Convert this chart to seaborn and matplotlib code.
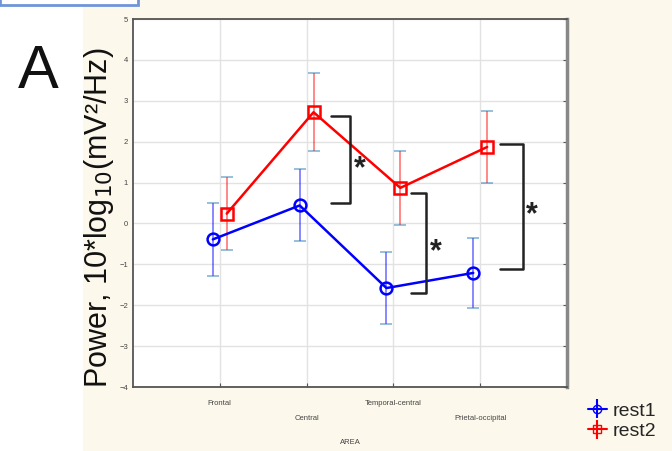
import matplotlib
matplotlib.use("Agg")

import pandas as pd
import matplotlib.pyplot as plt
import seaborn as sns
from matplotlib.patches import Rectangle

# ======================
# DATA
# ======================
areas = ["Frontal", "Central", "Temporal-central", "Prietal-occipital"]
rest1_mean = [-0.39, 0.44, -1.58, -1.21]
rest1_err = [0.89, 0.88, 0.89, 0.85]
rest2_mean = [0.24, 2.72, 0.87, 1.87]
rest2_err = [0.89, 0.96, 0.91, 0.87]

# significance brackets: (x of left end, x of vertical, y top, y bottom)
brackets = [
    (1.28, 1.50, 2.62, 0.49),
    (2.20, 2.38, 0.75, -1.70),
    (3.23, 3.49, 1.94, -1.12),
]

series = {
    "rest1": (rest1_mean, rest1_err, "#0000ff", "o", -0.08),
    "rest2": (rest2_mean, rest2_err, "#ff0000", "s", 0.08),
}

rows = []
for name, (vals, errs, col, mk, off) in series.items():
    for i, (v, e) in enumerate(zip(vals, errs)):
        rows.append({"pos": i + off, "value": v, "err": e, "group": name})
df = pd.DataFrame(rows)

# ======================
# PLOT
# ======================
sns.set_style("white")
plt.rcParams["font.family"] = ["Liberation Sans", "DejaVu Sans"]

fig = plt.figure(figsize=(6.72, 4.51), dpi=100)
fig.patch.set_facecolor("white")
fig.patches.append(Rectangle((83 / 672, 0), 1, 1, transform=fig.transFigure,
                             facecolor="#fdf8ec", edgecolor="none", zorder=-10))
fig.patches.append(Rectangle((0, 0.99), 138 / 672, 0.05, transform=fig.transFigure,
                             facecolor="white", edgecolor="#6f95d8", lw=2, zorder=-5))

ax = fig.add_axes([133 / 672, 64 / 451, 434 / 672, 368 / 451])
ax.set_zorder(2)
ax.set_facecolor("white")

for name, (vals, errs, col, mk, off) in series.items():
    sub = df[df["group"] == name]
    ax.errorbar(sub["pos"], sub["value"], yerr=sub["err"], fmt="none",
                ecolor=col, alpha=0.5, elinewidth=1.3, capsize=4, capthick=1.3, zorder=3)

sns.lineplot(data=df, x="pos", y="value", hue="group", style="group",
             palette={"rest1": "#0000ff", "rest2": "#ff0000"},
             markers={"rest1": "o", "rest2": "s"}, dashes=False,
             markersize=8.5, markerfacecolor="none", markeredgewidth=1.8,
             linewidth=1.8, sort=False, legend=False, ax=ax, zorder=4)
for line in ax.lines:
    line.set_markerfacecolor("none")
    line.set_markeredgecolor(line.get_color())

# brackets and stars
for xl, xv, yt, yb in brackets:
    ax.plot([xl, xv, xv, xl], [yt, yt, yb, yb], color="#222222", lw=1.8, zorder=5)
    ax.text(xv + 0.11, (yt + yb) / 2 - 0.22, "*", fontsize=22, fontweight="bold",
            ha="center", va="center", color="#222222", zorder=5)

ax.set_xlim(-1, 4)
ax.set_ylim(-4, 5)
ax.set_yticks(range(-4, 6))
ax.set_xticks(range(len(areas)))
ax.set_xticklabels([])
ax.grid(True, color="#e2e2e2", lw=1)
ax.tick_params(axis="both", direction="in", length=3, color="#555555",
               labelsize=5.5, labelcolor="#444444", right=True, top=False, bottom=True)
for s in ax.spines.values():
    s.set_color("#555555")
    s.set_linewidth(1.3)
ax.spines["right"].set_color("#888888")
ax.spines["right"].set_linewidth(2.5)

# staggered category labels
for i, lab in enumerate(areas):
    ax.annotate(lab, xy=(i, 0), xycoords=("data", "axes fraction"),
                xytext=(0, -12 if i % 2 == 0 else -23), textcoords="offset points",
                ha="center", va="center", fontsize=5.5, color="#444444")
ax.annotate("AREA", xy=(0.5, 0), xycoords="axes fraction", xytext=(0, -40),
            textcoords="offset points", ha="center", va="center", fontsize=5.5,
            color="#444444")

ax.set_xlabel("")
ax.set_ylabel("")
fig.text(99 / 672, 1 - 218 / 451, "Power, 10*log$_{10}$(mV²/Hz)", fontsize=22,
         rotation=90, ha="center", va="center", color="#111111")

fig.text(38 / 672, 1 - 73 / 451, "A", fontsize=44, ha="center", va="center",
         color="#111111")

# legend
h1 = ax.errorbar([], [], yerr=[], color="#0000ff", marker="o", mfc="none",
                 ms=6, capsize=3, lw=1.5)
h2 = ax.errorbar([], [], yerr=[], color="#ff0000", marker="s", mfc="none",
                 ms=6, capsize=3, lw=1.5)
fig.legend([h1, h2], ["rest1", "rest2"], loc="center left",
           bbox_to_anchor=(570 / 672, 1 - 421 / 451), frameon=False,
           fontsize=14, handlelength=1.0, handletextpad=0.3, labelspacing=0.15)

fig.savefig("out.png", dpi=100)
